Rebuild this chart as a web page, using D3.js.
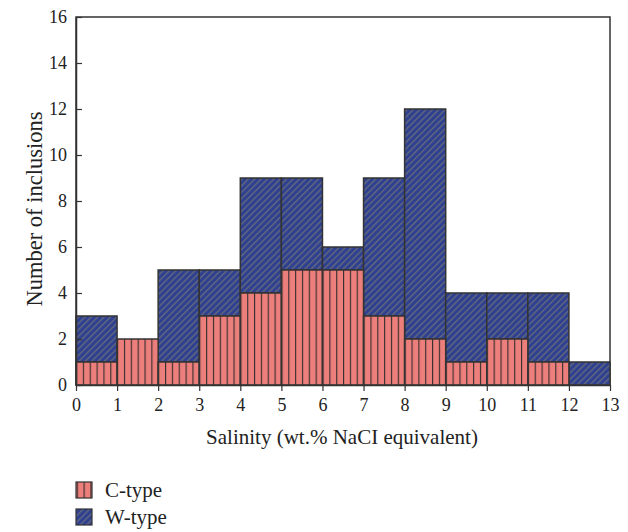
<!DOCTYPE html>
<html>
<head>
<meta charset="utf-8">
<script src="https://cdn.jsdelivr.net/npm/d3@7"></script>
<style>
  body { margin: 0; background: #fff; }
  text { font-family: "Liberation Serif", "DejaVu Serif", serif; fill: #222; }
</style>
</head>
<body>
<div id="chart"></div>
<script>
// bins of salinity (wt.% NaCl eq.), one per unit from 0 to 13
var binStart = [0, 1, 2, 3, 4, 5, 6, 7, 8, 9, 10, 11, 12];
var cType = [1, 2, 1, 3, 4, 5, 5, 3, 2, 1, 2, 1, 0];
var wType = [2, 0, 4, 2, 5, 4, 1, 6, 10, 3, 2, 3, 1];
var xTicks = [0, 1, 2, 3, 4, 5, 6, 7, 8, 9, 10, 11, 12, 13];
var yTicks = [0, 2, 4, 6, 8, 10, 12, 14, 16];

var width = 628, height = 532;
var margin = { top: 17, right: 18, bottom: 147, left: 76 };

var svg = d3.select("#chart").append("svg")
  .attr("width", width)
  .attr("height", height);

var x = d3.scaleLinear().domain([0, 13]).range([margin.left, width - margin.right]);
var y = d3.scaleLinear().domain([0, 16]).range([height - margin.bottom, margin.top]);

var defs = svg.append("defs");

// vertical stripes for C-type, six per bin
var stripeW = (x(1) - x(0)) / 6;
var pc = defs.append("pattern")
  .attr("id", "cpat")
  .attr("patternUnits", "userSpaceOnUse")
  .attr("x", x(0))
  .attr("width", stripeW)
  .attr("height", 10);
pc.append("rect").attr("width", stripeW).attr("height", 10).attr("fill", "#ec7f7b");
pc.append("line").attr("x1", 0.5).attr("x2", 0.5).attr("y1", 0).attr("y2", 10)
  .attr("stroke", "#3a3030").attr("stroke-width", 1.3);

// diagonal hatch for W-type
var pw = defs.append("pattern")
  .attr("id", "wpat")
  .attr("patternUnits", "userSpaceOnUse")
  .attr("width", 4.5)
  .attr("height", 4.5)
  .attr("patternTransform", "rotate(45)");
pw.append("rect").attr("width", 4.5).attr("height", 4.5).attr("fill", "#2e4090");
pw.append("line").attr("x1", 0.7).attr("x2", 0.7).attr("y1", 0).attr("y2", 4.5)
  .attr("stroke", "#63677e").attr("stroke-width", 1.4);

// frame
svg.append("rect")
  .attr("x", x(0)).attr("y", y(16))
  .attr("width", x(13) - x(0)).attr("height", y(0) - y(16))
  .attr("fill", "none").attr("stroke", "#333").attr("stroke-width", 1.5);

var rows = binStart.map((b, i) => ({ b: b, c: cType[i], w: wType[i] }));

// W-type stacked on top of C-type
svg.selectAll(".wbar")
  .data(rows.filter(d => d.w > 0))
  .join("rect")
  .attr("class", "wbar")
  .attr("x", d => x(d.b))
  .attr("width", d => x(d.b + 1) - x(d.b))
  .attr("y", d => y(d.c + d.w))
  .attr("height", d => y(d.c) - y(d.c + d.w))
  .attr("fill", "url(#wpat)")
  .attr("stroke", "#333")
  .attr("stroke-width", 1.5);

svg.selectAll(".cbar")
  .data(rows.filter(d => d.c > 0))
  .join("rect")
  .attr("class", "cbar")
  .attr("x", d => x(d.b))
  .attr("width", d => x(d.b + 1) - x(d.b))
  .attr("y", d => y(d.c))
  .attr("height", d => y(0) - y(d.c))
  .attr("fill", "url(#cpat)")
  .attr("stroke", "#333")
  .attr("stroke-width", 1.5);

// axes
var xaxis = svg.append("g")
  .attr("transform", `translate(0, ${y(0)})`)
  .call(d3.axisBottom(x).tickValues(xTicks).tickSize(6).tickSizeOuter(0).tickPadding(7).tickFormat(d3.format("d")));
xaxis.select(".domain").attr("stroke", "#333").attr("stroke-width", 1.5);
xaxis.selectAll(".tick line").attr("stroke", "#333").attr("stroke-width", 1.2);
xaxis.selectAll(".tick text").attr("font-size", 18)
  .style("font-family", "Liberation Serif, serif").attr("fill", "#222");

var yaxis = svg.append("g")
  .attr("transform", `translate(${x(0)}, 0)`)
  .call(d3.axisLeft(y).tickValues(yTicks).tickSize(-6).tickSizeOuter(0).tickPadding(9));
yaxis.select(".domain").attr("stroke", "#333").attr("stroke-width", 1.5);
yaxis.selectAll(".tick line").attr("stroke", "#333").attr("stroke-width", 1.2);
yaxis.selectAll(".tick text").attr("font-size", 18)
  .style("font-family", "Liberation Serif, serif").attr("fill", "#222");

// labels
svg.append("text")
  .attr("x", 342)
  .attr("y", 444)
  .attr("text-anchor", "middle")
  .attr("font-size", 21)
  .text("Salinity (wt.% NaCI equivalent)");

svg.append("text")
  .attr("transform", "rotate(-90)")
  .attr("x", -209)
  .attr("y", 42)
  .attr("text-anchor", "middle")
  .attr("font-size", 22.5)
  .text("Number of inclusions");

// legend
var legendItems = [
  { name: "C-type", fill: "url(#cpat)" },
  { name: "W-type", fill: "url(#wpat)" }
];
var lg = svg.selectAll(".legend")
  .data(legendItems)
  .join("g")
  .attr("class", "legend")
  .attr("transform", (d, i) => `translate(76, ${482 + i * 27})`);
lg.append("rect")
  .attr("width", 16).attr("height", 16)
  .attr("fill", d => d.fill)
  .attr("stroke", "#333").attr("stroke-width", 1.2);
lg.append("text")
  .attr("x", 29).attr("y", 8)
  .attr("dy", "0.35em")
  .attr("font-size", 21)
  .text(d => d.name);
</script>
</body>
</html>
